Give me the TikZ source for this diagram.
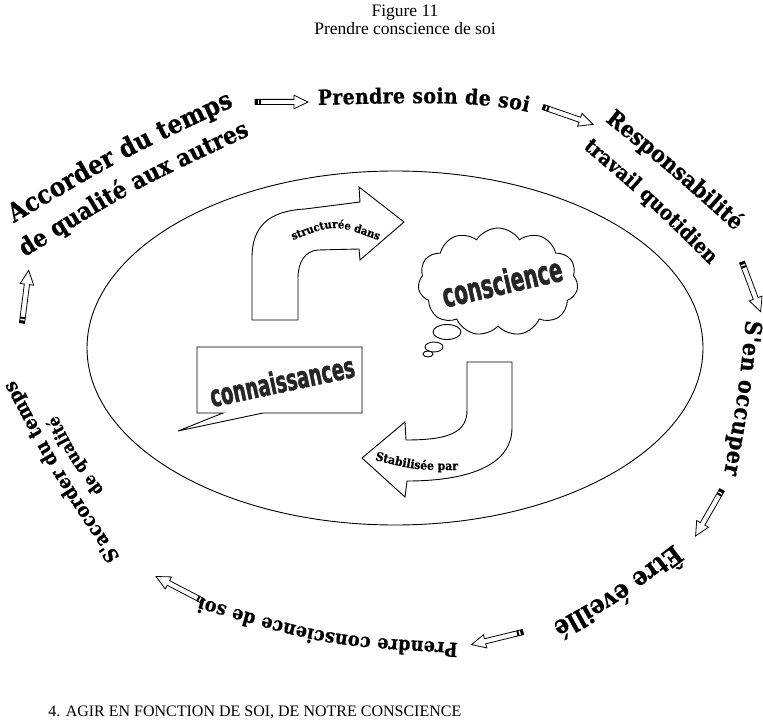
\documentclass[tikz,border=0pt]{standalone}
\usepackage{fontspec}
\usetikzlibrary{decorations.text,shapes.symbols}
\newfontfamily\bk[FakeStretch=0.9,FakeBold=0.6]{DejaVu Serif}
\newfontfamily\tms{Liberation Serif}
\newfontfamily\imp[FakeStretch=0.6,FakeBold=1.5]{DejaVu Sans}
\newcommand\bkf[1]{\bk\bfseries\fontsize{#1}{#1}\selectfont}
\tikzset{
  ringtext/.style={decorate, decoration={text along path, text align={fit to path}, text={#1}}},
  harrow/.pic={
    \draw[line width=0.8pt, fill=white] (0,2.6) -- (39,2.6) -- (39,6.8) -- (53,0) -- (39,-6.8) -- (39,-2.6) -- (0,-2.6) -- cycle;
    \fill (0,-2.6) rectangle (2.6,2.6);
    \fill (4.2,-2.6) rectangle (6.2,2.6);
  },
  bigword/.style={inner sep=0, text=black!85},
  bigarrow/.style={draw, fill=white, line width=0.9pt, line join=miter}
}
\begin{document}
\begin{tikzpicture}[x=1pt, y=-1pt, line width=0.9pt]
\useasboundingbox[fill=white] (0,0) rectangle (763,722);

% titles
\node[anchor=base, inner sep=0, font=\tms\fontsize{17.5}{20}\selectfont] (fig) at (405,17) {Figure 11};
\node[anchor=base, inner sep=0, font=\tms\fontsize{17.5}{20}\selectfont] (sub) at (405,35) {Prendre conscience de soi};
\node[anchor=base west, inner sep=0, font=\tms\fontsize{16}{18}\selectfont] (foot) at (48,716) {4. AGIR EN FONCTION DE SOI, DE NOTRE CONSCIENCE};

% ellipse
\draw (395,348) ellipse [x radius=308, y radius=177];

% ring texts
\path[ringtext={|\bkf{25.8}|Accorder du temps}] (14,223) .. controls (123,158) .. (234,106);
\path[ringtext={|\bkf{24}|de qualité aux autres}] (25,257) .. controls (131.5,190.7) .. (250,135);
\path[ringtext={|\bkf{21}|Prendre soin de soi}] (318,105) .. controls (400,103) and (480,100) .. (528,112);
\path[ringtext={|\bkf{22.8}|Responsabilité}] (605,121) .. controls (671.7,174.3) .. (735,231);
\path[ringtext={|\bkf{20.5}|travail quotidien}] (583,148) .. controls (647.7,203.3) .. (709,264);
\path[ringtext={|\bkf{23}|S'en occuper}] (746,320) .. controls (738,396) .. (724,474);
\path[ringtext={|\bkf{25.5}|Être éveillé}] (674,544) .. controls (614.7,589.3) .. (552,624);
\path[ringtext={|\bkf{19.4}|Prendre conscience de soi}] (458,643) .. controls (327.8,635.8) .. (200,598);
\path[ringtext={|\bkf{19.6}|S'accorder du temps}] (120,557) .. controls (61.8,470.5) .. (14,380);
\path[ringtext={|\bkf{17.2}|de qualité}] (104,490) .. controls (77.2,455.7) .. (57,415);

% small hollow arrows
\coordinate (t1) at (255,102); \coordinate (h1) at (310,102);
\coordinate (t2) at (543,107); \coordinate (h2) at (595,125);
\coordinate (t3) at (742,262); \coordinate (h3) at (760,310);
\coordinate (t4) at (722,490); \coordinate (h4) at (695,537);
\coordinate (t5) at (523,632); \coordinate (h5) at (470,645);
\coordinate (t6) at (203,601); \coordinate (h6) at (157,577);
\coordinate (t7) at (22,323);  \coordinate (h7) at (29,268);
\foreach \i in {1,...,7}{
  \path (t\i) -- (h\i) pic[pos=0, sloped, allow upside down]{harrow};
}

% upper bent arrow
\draw[bigarrow] (252,320) -- (252,258) .. controls (252,225) and (270,211) .. (305,209)
  -- (360,202) -- (359,187) -- (404,222) -- (360,260) -- (359,249) -- (318,250)
  .. controls (305,251) and (298,262) .. (298,278) -- (298,320) -- cycle;
\path[ringtext={|\bkf{11.2}|structurée dans}] (293,240) .. controls (334.7,224) .. (378,240);

% lower bent arrow
\draw[bigarrow] (467,362) -- (512,362) -- (512,428) .. controls (512,462) and (475,481) .. (407,481)
  -- (405,497) -- (362,458) -- (405,422) -- (406,440) .. controls (450,440) and (467,432) .. (467,410) -- cycle;
\path[ringtext={|\bkf{12}|Stabilisée par}] (375,460) .. controls (415,470) .. (458,470);

% callout
\draw[line join=miter] (197,347) -- (362,347) -- (362,413) -- (263,413) -- (178,431) -- (223,413) -- (197,413) -- cycle;
\node[bigword, rotate=12, font=\imp\bfseries\fontsize{30}{30}\selectfont] (conn) at (282,381) {connaissances};

% cloud
\node[cloud, cloud puffs=11, cloud puff arc=115, aspect=1.5, draw, line width=0.9pt,
      minimum width=160pt, minimum height=108pt, inner sep=0] (cloud) at (498,282) {};
\draw[fill=white] (447,332) ellipse [x radius=14, y radius=7.5];
\draw[fill=white] (434,347) ellipse [x radius=9, y radius=5];
\draw[fill=white] (428,354) ellipse [x radius=5, y radius=3];
\node[bigword, rotate=13, font=\imp\bfseries\fontsize{33}{33}\selectfont] (consc) at (502,282) {conscience};
\end{tikzpicture}
\end{document}
